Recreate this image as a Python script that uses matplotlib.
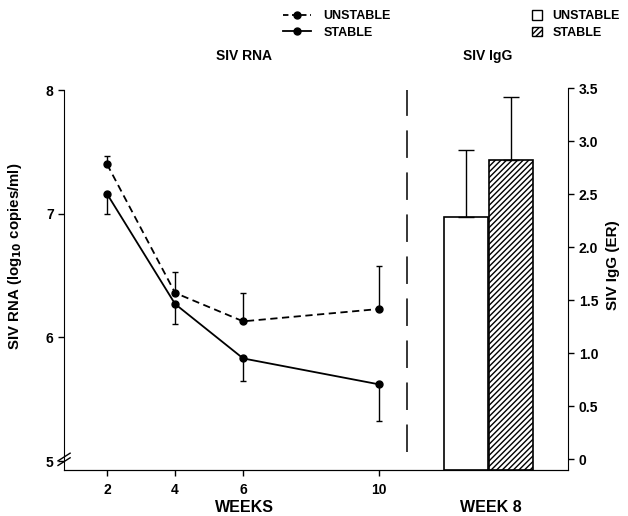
import matplotlib
matplotlib.use("Agg")
import matplotlib.pyplot as plt
from matplotlib.lines import Line2D
from matplotlib.patches import Patch

plt.rcParams['font.family'] = ['Liberation Sans', 'DejaVu Sans']
plt.rcParams['font.weight'] = 'bold'
plt.rcParams['hatch.linewidth'] = 1.0

# SIV RNA (log10 copies/ml) by week
weeks = [2, 4, 6, 10]
unstable_rna = [7.40, 6.36, 6.13, 6.23]
unstable_err = [0.07, 0.17, 0.23, 0.35]
stable_rna = [7.16, 6.27, 5.83, 5.62]
stable_err = [0.16, 0.16, 0.18, 0.30]

# SIV IgG (ER) at week 8
igg_groups = ['UNSTABLE', 'STABLE']
igg_values = [2.28, 2.82]
igg_err = [0.64, 0.60]

fig = plt.figure(figsize=(6.28, 5.16), dpi=100)
ax = fig.add_axes([0.102, 0.089, 0.803, 0.744])

# left panel: RNA curves (one-sided error bars)
ax.errorbar(weeks, unstable_rna, yerr=[[0] * 4, unstable_err], color='black',
            ls=(0, (4, 2.5)), lw=1.3, marker='o', ms=5, capsize=2.5, elinewidth=1)
ax.errorbar(weeks, stable_rna, yerr=[stable_err, [0] * 4], color='black',
            ls='-', lw=1.3, marker='o', ms=5, capsize=2.5, elinewidth=1)

# separator between panels
ax.plot([10.82, 10.82], [5.07, 8.0], color='black', lw=1.1, dashes=(18, 9.5))

ax.set_xlim(0.735, 15.56)
ax.set_ylim(4.927, 8.032)
ax.set_xticks(weeks)
ax.set_xticklabels(['2', '4', '6', '10'])
ax.set_yticks([5, 6, 7, 8])
ax.spines['top'].set_visible(False)
ax.spines['right'].set_visible(False)
ax.spines['left'].set_bounds(4.927, 8.0)
ax.tick_params(axis='both', direction='out', length=4, width=1, labelsize=10)
ax.tick_params(axis='x', pad=5)
ax.set_ylabel('SIV RNA (log$_{10}$ copies/ml)', fontsize=10.8, fontweight='bold')
ax.yaxis.set_label_coords(-0.079, 0.557)

# axis break mark
for dy in (0, 0.012):
    ax.plot([-0.012, 0.012], [0.012 + dy, 0.032 + dy], transform=ax.transAxes,
            color='black', lw=1, clip_on=False)

# right panel: IgG bars on twin axis, drawn down to the baseline
ax2 = ax.twinx()
y2_bottom = -0.104
bar_x = [12.56, 13.87]
bar_h = [v - y2_bottom for v in igg_values]
ax2.bar(bar_x[0], bar_h[0], bottom=y2_bottom, width=1.3, color='white',
        edgecolor='black', lw=1.2)
ax2.bar(bar_x[1], bar_h[1], bottom=y2_bottom, width=1.3, color='white',
        edgecolor='black', lw=1.2, hatch='//////')
ax2.errorbar(bar_x, igg_values, yerr=[[0, 0], igg_err], fmt='none', ecolor='black',
             elinewidth=1, capsize=6)
ax2.set_ylim(y2_bottom, 3.519)
ax2.set_yticks([0, 0.5, 1.0, 1.5, 2.0, 2.5, 3.0, 3.5])
ax2.set_yticklabels(['0', '0.5', '1.0', '1.5', '2.0', '2.5', '3.0', '3.5'])
ax2.spines['top'].set_visible(False)
ax2.spines['left'].set_visible(False)
ax2.spines['right'].set_bounds(y2_bottom, 3.5)
ax2.tick_params(axis='y', direction='out', length=4, width=1, labelsize=10)
ax2.set_ylabel('SIV IgG (ER)', fontsize=11, fontweight='bold')
ax2.yaxis.set_label_coords(1.075, 0.534)

# panel titles and axis captions
fig.text(244 / 628, 1 - 56 / 516, 'SIV RNA', ha='center', va='center', fontsize=10)
fig.text(488 / 628, 1 - 56 / 516, 'SIV IgG', ha='center', va='center', fontsize=10)
fig.text(244 / 628, 1 - 507 / 516, 'WEEKS', ha='center', va='center', fontsize=11.5)
fig.text(491 / 628, 1 - 507 / 516, 'WEEK 8', ha='center', va='center', fontsize=11.5)

# legends
line_handles = [
    Line2D([], [], color='black', ls=(0, (3, 2)), lw=1.3, marker='o', ms=5),
    Line2D([], [], color='black', ls='-', lw=1.3, marker='o', ms=5),
]
leg1 = fig.legend(line_handles, igg_groups, loc='upper left',
                  bbox_to_anchor=(272 / 628, 1 + 1 / 516), frameon=False,
                  fontsize=9, handlelength=2.2, handletextpad=1.0, labelspacing=0.35)
patch_handles = [
    Patch(facecolor='white', edgecolor='black', lw=1),
    Patch(facecolor='white', edgecolor='black', lw=1, hatch='//////'),
]
leg2 = fig.legend(patch_handles, igg_groups, loc='upper left',
                  bbox_to_anchor=(521 / 628, 1 + 1 / 516), frameon=False,
                  fontsize=9, handlelength=0.8, handleheight=0.8,
                  handletextpad=0.8, labelspacing=0.35)

fig.savefig('out.png', dpi=100)
